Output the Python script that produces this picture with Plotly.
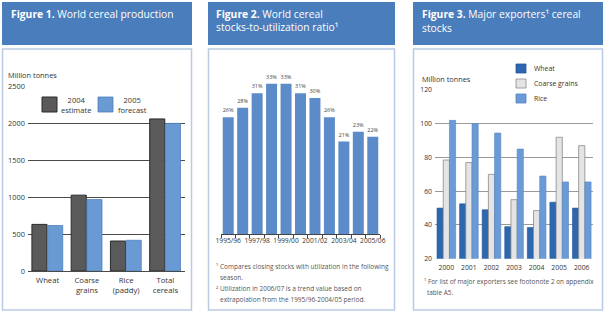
import plotly.graph_objects as go

W, H = 605, 316

# ---------------- Figure 1 data ----------------
crops = ["Wheat", "Coarse<br>grains", "Rice<br>(paddy)", "Total<br>cereals"]
prod_2004 = [630, 1025, 405, 2055]
prod_2005 = [615, 965, 415, 1995]
fig1_series = ["2004<br>estimate", "2005<br>forecast"]
fig1_yticks = [0, 500, 1000, 1500, 2000, 2500]

# ---------------- Figure 2 data ----------------
seasons = ["1995/96", "1996/97", "1997/98", "1998/99", "1999/00", "2000/01",
           "2001/02", "2002/03", "2003/04", "2004/05", "2005/06"]
ratio = [26, 28, 31, 33, 33, 31, 30, 26, 21, 23, 22]
season_ticktext = ["1995/96", "", "1997/98", "", "1999/00", "", "2001/02", "",
                   "2003/04", "", "2005/06"]

# ---------------- Figure 3 data ----------------
years = ["2000", "2001", "2002", "2003", "2004", "2005", "2006"]
wheat = [50, 52.5, 49, 39, 38.5, 53.5, 50]
coarse = [78.5, 77, 70, 55, 48.5, 92, 87]
rice = [102, 100, 94.5, 85, 69, 65.5, 65.5]
fig3_series = ["Wheat", "Coarse grains", "Rice"]
fig3_yticks = [20, 40, 60, 80, 100, 120]


def px(x):
    return x / W


def py(y):
    return 1 - y / H


FONT = "Open Sans"
HEAD = "#4a7dbb"
BORDER = "#b9cbe3"
TXT = "#333333"

fig = go.Figure()

# Figure 1 bars
fig.add_trace(go.Bar(x=crops, y=prod_2004, name="2004 estimate", xaxis="x", yaxis="y",
                     width=0.385, offset=-0.40,
                     marker=dict(color="#5a5a5a", line=dict(color="#2a2a2a", width=1))))
fig.add_trace(go.Bar(x=crops, y=prod_2005, name="2005 forecast", xaxis="x", yaxis="y",
                     width=0.385, offset=0.0,
                     marker=dict(color="#6a9ad3", line=dict(color="#4f7fbb", width=0.8))))

# Figure 2 bars
fig.add_trace(go.Bar(x=seasons, y=ratio, xaxis="x2", yaxis="y2", width=0.76,
                     marker=dict(color="#5b8bc8", line=dict(width=0)),
                     text=[f"{v}%" for v in ratio], textposition="outside",
                     textfont=dict(size=5.8, color="#444444", family=FONT),
                     cliponaxis=False))

# Figure 3 bars
fig.add_trace(go.Bar(x=years, y=wheat, name=fig3_series[0], xaxis="x3", yaxis="y3",
                     width=0.275, offset=-0.41,
                     marker=dict(color="#2d67b0", line=dict(color="#24569a", width=0.6)), base=0))
fig.add_trace(go.Bar(x=years, y=coarse, name=fig3_series[1], xaxis="x3", yaxis="y3",
                     width=0.275, offset=-0.135,
                     marker=dict(color="#e4e4e4", line=dict(color="#8a8a8a", width=0.8)), base=0))
fig.add_trace(go.Bar(x=years, y=rice, name=fig3_series[2], xaxis="x3", yaxis="y3",
                     width=0.275, offset=0.14,
                     marker=dict(color="#6b9bd6", line=dict(color="#5584c0", width=0.6)), base=0))

shapes = []
annotations = []

# Panel frames
panels = [(2, 192), (208, 395), (413, 603)]
for x0, x1 in panels:
    shapes.append(dict(type="rect", xref="paper", yref="paper", x0=px(x0), x1=px(x1),
                       y0=py(45), y1=py(2), fillcolor=HEAD, line=dict(width=0), layer="below"))
    shapes.append(dict(type="rect", xref="paper", yref="paper", x0=px(x0 + 0.5), x1=px(x1 - 0.5),
                       y0=py(310), y1=py(49), fillcolor="rgba(0,0,0,0)",
                       line=dict(color=BORDER, width=1.5), layer="below"))

# Headers
annotations += [
    dict(text="<b>Figure 1.</b> World cereal production", x=px(9), y=py(13.5)),
    dict(text="<b>Figure 2.</b> World cereal", x=px(214), y=py(14)),
    dict(text="stocks-to-utilization ratio¹", x=px(214), y=py(27)),
    dict(text="<b>Figure 3.</b> Major exporters¹ cereal", x=px(420), y=py(14)),
    dict(text="stocks", x=px(420), y=py(28)),
]
for a in annotations:
    a.update(xref="paper", yref="paper", xanchor="left", yanchor="middle", showarrow=False,
             font=dict(family=FONT, size=10.3, color="white"))

def note(text, x, y, size=7.5, color=TXT, xanchor="left"):
    annotations.append(dict(text=text, x=px(x), y=py(y), xref="paper", yref="paper",
                            xanchor=xanchor, yanchor="middle", showarrow=False,
                            font=dict(family=FONT, size=size, color=color)))

# Figure 1 extras
note("Million tonnes", 6, 75, size=7.4)
shapes.append(dict(type="rect", xref="paper", yref="paper", x0=px(42), x1=px(57),
                   y0=py(112), y1=py(97), fillcolor="#5a5a5a",
                   line=dict(color="#2a2a2a", width=1)))
shapes.append(dict(type="rect", xref="paper", yref="paper", x0=px(98), x1=px(113),
                   y0=py(112), y1=py(97), fillcolor="#6a9ad3",
                   line=dict(color="#4f7fbb", width=0.8)))
annotations.append(dict(text=fig1_series[0], x=px(75.5), y=py(105), xref="paper", yref="paper",
                        xanchor="center", yanchor="middle", showarrow=False, align="center",
                        font=dict(family=FONT, size=7.5, color=TXT)))
annotations.append(dict(text=fig1_series[1], x=px(132), y=py(105), xref="paper", yref="paper",
                        xanchor="center", yanchor="middle", showarrow=False, align="center",
                        font=dict(family=FONT, size=7.5, color=TXT)))

# Figure 2 footnotes
note("¹ Compares closing stocks with utilization in the following", 214, 266, size=6.5, color="#555555")
note("season.", 218, 277, size=6.5, color="#555555")
note("² Utilization in 2006/07 is a trend value based on", 214, 288.5, size=6.5, color="#555555")
note("extrapolation from the 1995/96-2004/05 period.", 218, 299, size=6.5, color="#555555")

# Figure 3 extras
note("Million tonnes", 420, 79, size=7.3)
shapes.append(dict(type="rect", xref="paper", yref="paper", x0=px(509), x1=px(581),
                   y0=py(94), y1=py(86), fillcolor="white", line=dict(width=0), layer="above"))
sw_cols = [("#2d67b0", "#24569a"), ("#e4e4e4", "#8a8a8a"), ("#6b9bd6", "#5584c0")]
for i, (name, (fc, lc)) in enumerate(zip(fig3_series, sw_cols)):
    yc = 68.5 + 15 * i
    shapes.append(dict(type="rect", xref="paper", yref="paper", x0=px(516), x1=px(526),
                       y0=py(yc + 4.5), y1=py(yc - 4.5), fillcolor=fc,
                       line=dict(color=lc, width=0.8), layer="above"))
    note(name, 532, yc, size=6.9)
note("¹ For list of major exporters see footonote 2 on appendix", 422, 281, size=6.45, color="#555555")
note("table A5.", 425, 292, size=6.45, color="#555555")

tickfont = dict(family=FONT, size=7.7, color=TXT)

fig.update_layout(
    width=W, height=H, margin=dict(l=0, r=0, t=0, b=0, autoexpand=False),
    paper_bgcolor="white", plot_bgcolor="rgba(0,0,0,0)",
    barmode="overlay", showlegend=False, hovermode=False,
    font=dict(family=FONT, color=TXT),
    shapes=shapes, annotations=annotations,
    xaxis=dict(domain=[px(28), px(185)], anchor="y", showgrid=False, showline=False,
               tickfont=tickfont, ticks="", ticklabelstandoff=3, automargin=False),
    yaxis=dict(domain=[py(271), py(86)], anchor="x", range=[0, 2500], tickvals=fig1_yticks,
               showgrid=True, gridcolor="#4a4a4a", gridwidth=1, zeroline=True,
               zerolinecolor="#4a4a4a", zerolinewidth=1, showline=False,
               tickfont=dict(family=FONT, size=7.4, color=TXT),
               ticks="", ticklabelstandoff=2, automargin=False),
    xaxis2=dict(domain=[px(221), px(380)], anchor="y2", showgrid=False, showline=True,
                linecolor="#444444", linewidth=1, ticks="outside", ticklen=3,
                tickcolor="#444444", tickson="boundaries", tickmode="array",
                tickvals=seasons, ticktext=season_ticktext, tickangle=0,
                tickfont=dict(family=FONT, size=6.7, color=TXT), automargin=False),
    yaxis2=dict(domain=[py(234), py(74)], anchor="x2", range=[1.8, 35], visible=False,
                automargin=False),
    xaxis3=dict(domain=[px(435), px(593)], anchor="y3", showgrid=False, showline=False,
                ticks="", tickfont=dict(family=FONT, size=6.8, color=TXT),
                ticklabelstandoff=3, automargin=False),
    yaxis3=dict(domain=[py(258.7), py(90)], anchor="x3", range=[20, 120], tickvals=fig3_yticks,
                showgrid=True, gridcolor="#9a9a9a", gridwidth=1, zeroline=False,
                showline=False, tickfont=dict(family=FONT, size=6.8, color=TXT), ticks="",
                ticklabelstandoff=2, automargin=False),
)

fig.write_html("out.html", config={"displayModeBar": False},
               post_script="document.body.style.margin='0';document.body.style.padding='0';"
                           "document.documentElement.style.overflow='hidden';")
